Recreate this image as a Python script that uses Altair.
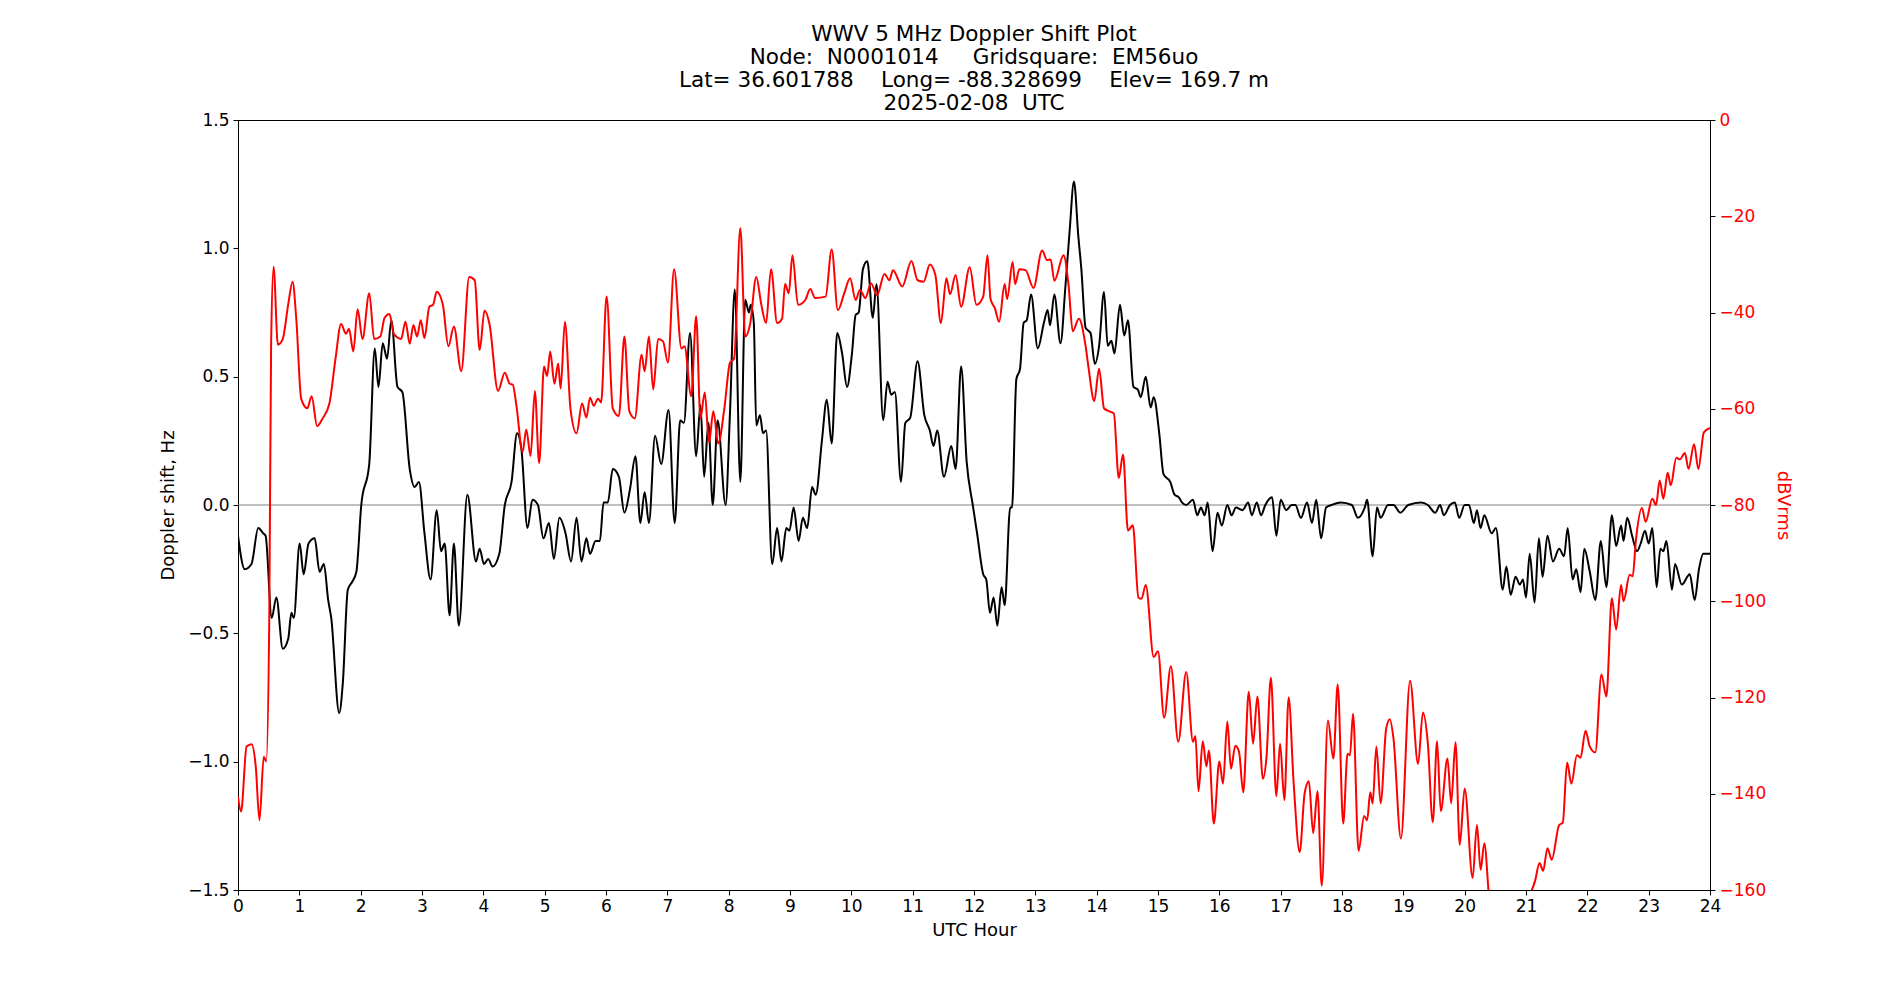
import altair as alt
import pandas as pd

# Doppler shift (Hz) vs UTC hour
black_hour = [0.00,0.11,0.22,0.33,0.41,0.45,0.55,0.625,0.73,0.82,0.87,0.91,1.005,1.07,1.15,1.25,1.33,1.40,1.47,1.52,1.65,1.71,1.79,1.86,1.93,2.01,2.14,2.23,2.29,2.36,2.43,2.50,2.60,2.68,2.80,2.88,2.95,3.04,3.14,3.24,3.31,3.37,3.45,3.52,3.60,3.74,3.88,3.94,4.01,4.08,4.15,4.26,4.35,4.46,4.55,4.62,4.72,4.80,4.89,4.98,5.07,5.15,5.24,5.34,5.43,5.52,5.60,5.68,5.74,5.83,5.90,5.96,6.03,6.11,6.21,6.30,6.39,6.48,6.56,6.63,6.70,6.80,6.90,7.02,7.12,7.21,7.27,7.37,7.47,7.54,7.60,7.67,7.74,7.82,7.95,8.02,8.10,8.19,8.27,8.33,8.36,8.41,8.45,8.51,8.56,8.61,8.71,8.79,8.86,8.94,8.99,9.06,9.14,9.21,9.28,9.36,9.42,9.52,9.60,9.68,9.77,9.85,9.93,10.01,10.07,10.12,10.19,10.26,10.35,10.41,10.52,10.59,10.65,10.71,10.81,10.88,10.96,11.08,11.19,11.28,11.34,11.40,11.51,11.63,11.70,11.79,11.88,11.98,12.05,12.15,12.20,12.26,12.32,12.38,12.45,12.50,12.59,12.62,12.69,12.75,12.81,12.86,12.93,13.04,13.14,13.20,13.24,13.31,13.41,13.49,13.56,13.63,13.70,13.75,13.82,13.86,13.90,13.97,14.04,14.12,14.18,14.24,14.29,14.38,14.45,14.51,14.60,14.67,14.72,14.80,14.88,14.93,15.02,15.09,15.20,15.27,15.34,15.39,15.46,15.57,15.64,15.70,15.76,15.81,15.89,15.97,16.04,16.13,16.20,16.27,16.38,16.47,16.53,16.61,16.68,16.75,16.86,16.93,17.00,17.09,17.18,17.24,17.33,17.43,17.51,17.58,17.66,17.74,17.83,17.98,18.16,18.26,18.37,18.41,18.50,18.57,18.63,18.75,18.84,18.95,19.08,19.29,19.40,19.52,19.60,19.66,19.76,19.84,19.91,20.00,20.07,20.15,20.20,20.26,20.32,20.44,20.51,20.62,20.68,20.75,20.83,20.90,20.95,21.00,21.06,21.14,21.21,21.27,21.35,21.44,21.54,21.62,21.68,21.76,21.82,21.89,21.95,22.04,22.13,22.22,22.31,22.40,22.47,22.55,22.59,22.65,22.73,22.81,22.87,22.94,23.00,23.06,23.13,23.19,23.24,23.29,23.38,23.43,23.54,23.67,23.75,23.82,23.89,24.00]
black_hz = [-0.12,-0.25,-0.23,-0.09,-0.11,-0.12,-0.44,-0.36,-0.56,-0.52,-0.42,-0.44,-0.15,-0.27,-0.15,-0.13,-0.26,-0.23,-0.37,-0.44,-0.81,-0.69,-0.33,-0.30,-0.26,0.00,0.16,0.61,0.46,0.63,0.57,0.72,0.46,0.44,0.14,0.07,0.09,-0.11,-0.29,-0.02,-0.18,-0.15,-0.43,-0.15,-0.47,0.04,-0.22,-0.17,-0.23,-0.21,-0.24,-0.19,0.00,0.09,0.28,0.22,-0.09,0.02,0.00,-0.13,-0.07,-0.21,-0.05,-0.11,-0.22,-0.05,-0.22,-0.13,-0.19,-0.14,-0.14,0.01,0.01,0.14,0.11,-0.03,0.06,0.19,-0.07,0.05,-0.07,0.27,0.16,0.37,-0.07,0.33,0.32,0.67,0.19,0.39,0.11,0.32,0.00,0.33,0.00,0.35,0.84,0.09,0.80,0.75,0.78,0.71,0.31,0.35,0.28,0.29,-0.23,-0.09,-0.22,-0.09,-0.10,-0.01,-0.14,-0.05,-0.09,0.07,0.04,0.25,0.41,0.24,0.67,0.59,0.46,0.59,0.74,0.75,0.92,0.95,0.73,0.86,0.33,0.48,0.43,0.44,0.09,0.32,0.34,0.56,0.35,0.29,0.23,0.29,0.11,0.23,0.14,0.54,0.17,0.00,-0.11,-0.27,-0.29,-0.42,-0.36,-0.47,-0.32,-0.39,-0.01,-0.01,0.49,0.53,0.71,0.72,0.82,0.61,0.71,0.76,0.70,0.82,0.63,0.85,1.07,1.26,1.05,0.92,0.69,0.68,0.67,0.55,0.62,0.83,0.62,0.64,0.59,0.78,0.66,0.72,0.46,0.45,0.42,0.50,0.38,0.42,0.28,0.12,0.09,0.04,0.03,0.01,0.00,0.02,-0.04,-0.01,-0.04,0.01,-0.18,-0.03,-0.08,0.00,-0.04,-0.01,-0.02,0.01,-0.04,0.01,-0.04,0.00,0.03,-0.12,0.02,-0.02,0.00,0.00,-0.05,0.01,-0.07,0.02,-0.13,-0.01,0.00,0.01,0.00,-0.05,-0.01,0.02,-0.20,-0.01,-0.05,0.00,0.00,-0.03,0.00,0.01,0.00,-0.03,0.00,-0.04,0.00,0.01,-0.05,0.00,0.00,-0.07,-0.02,-0.09,-0.04,-0.11,-0.09,-0.33,-0.24,-0.35,-0.28,-0.31,-0.29,-0.36,-0.19,-0.38,-0.13,-0.28,-0.12,-0.22,-0.17,-0.20,-0.09,-0.29,-0.25,-0.34,-0.17,-0.26,-0.37,-0.14,-0.32,-0.04,-0.16,-0.08,-0.14,-0.05,-0.12,-0.18,-0.15,-0.10,-0.15,-0.09,-0.32,-0.17,-0.18,-0.14,-0.33,-0.23,-0.31,-0.27,-0.37,-0.25,-0.19,-0.19]

# Signal level (dBVrms) vs UTC hour
red_hour = [0.00,0.05,0.14,0.22,0.29,0.35,0.42,0.46,0.51,0.54,0.58,0.65,0.73,0.82,0.89,0.95,1.03,1.13,1.20,1.29,1.38,1.49,1.59,1.68,1.76,1.81,1.88,1.95,2.03,2.14,2.22,2.32,2.39,2.47,2.54,2.66,2.73,2.80,2.86,2.92,2.98,3.04,3.12,3.18,3.24,3.34,3.43,3.52,3.64,3.77,3.86,3.94,4.02,4.10,4.24,4.35,4.43,4.48,4.54,4.64,4.70,4.77,4.84,4.91,4.99,5.04,5.09,5.16,5.22,5.26,5.33,5.42,5.52,5.61,5.68,5.74,5.80,5.87,5.92,6.01,6.11,6.21,6.30,6.38,6.47,6.58,6.63,6.70,6.77,6.85,6.93,7.01,7.11,7.23,7.28,7.39,7.47,7.54,7.61,7.68,7.75,7.83,7.93,8.02,8.09,8.19,8.27,8.35,8.45,8.53,8.61,8.69,8.79,8.87,8.92,8.98,9.04,9.13,9.25,9.33,9.41,9.58,9.68,9.78,9.88,9.98,10.07,10.14,10.23,10.32,10.42,10.54,10.62,10.68,10.83,10.98,11.08,11.18,11.28,11.37,11.46,11.55,11.61,11.70,11.79,11.93,12.04,12.15,12.22,12.27,12.34,12.41,12.50,12.54,12.63,12.67,12.74,12.84,12.97,13.11,13.19,13.25,13.31,13.46,13.54,13.61,13.71,13.82,13.87,13.96,14.04,14.12,14.20,14.28,14.36,14.43,14.51,14.59,14.68,14.73,14.80,14.93,15.00,15.10,15.21,15.33,15.46,15.57,15.61,15.66,15.73,15.79,15.83,15.91,16.00,16.06,16.13,16.19,16.26,16.32,16.39,16.48,16.55,16.62,16.71,16.77,16.84,16.93,16.99,17.06,17.13,17.21,17.31,17.39,17.46,17.53,17.60,17.67,17.77,17.86,17.93,18.02,18.09,18.13,18.18,18.27,18.36,18.41,18.46,18.50,18.56,18.63,18.72,18.78,18.84,18.96,19.11,19.24,19.32,19.40,19.48,19.55,19.61,19.72,19.78,19.85,19.92,20.00,20.13,20.20,20.26,20.32,20.41,20.55,20.75,20.95,21.05,21.15,21.22,21.28,21.35,21.42,21.54,21.60,21.67,21.74,21.83,21.89,21.97,22.04,22.13,22.23,22.31,22.40,22.47,22.55,22.59,22.69,22.74,22.79,22.89,22.95,23.06,23.12,23.18,23.24,23.31,23.36,23.45,23.51,23.59,23.65,23.74,23.81,23.90,24.00]
red_db = [-140.6,-143.7,-130.2,-129.7,-134.4,-145.5,-132.3,-133.3,-103.4,-46.5,-30.5,-46.7,-45.5,-38.2,-33.6,-41.3,-57.9,-59.9,-57.4,-63.6,-62.0,-58.9,-49.6,-42.4,-44.4,-43.4,-48.1,-39.3,-45.5,-36.0,-45.5,-45.0,-41.1,-40.3,-44.4,-45.5,-41.9,-46.5,-42.6,-45.0,-41.6,-45.3,-38.8,-38.4,-35.7,-38.4,-47.0,-42.9,-52.2,-32.6,-33.3,-47.8,-39.6,-42.4,-56.3,-52.5,-54.8,-55.0,-59.4,-69.0,-64.3,-69.8,-56.3,-71.3,-51.2,-53.2,-48.1,-54.8,-50.6,-55.8,-41.9,-59.9,-65.1,-58.9,-61.8,-57.7,-59.4,-57.9,-58.7,-36.7,-59.9,-61.5,-45.0,-60.5,-62.0,-48.8,-52.2,-45.0,-56.0,-45.5,-46.0,-50.4,-31.0,-47.5,-47.0,-57.4,-40.8,-62.0,-56.6,-67.0,-60.5,-67.2,-59.9,-50.5,-49.5,-22.5,-45.0,-42.4,-32.6,-38.2,-42.2,-31.0,-42.2,-41.3,-34.1,-36.0,-28.1,-38.4,-37.4,-35.1,-37.0,-36.7,-26.9,-39.5,-36.2,-32.9,-37.4,-35.3,-37.0,-33.9,-36.4,-32.0,-33.3,-31.2,-34.6,-29.3,-33.3,-33.6,-30.0,-32.2,-42.2,-32.9,-36.2,-32.2,-38.8,-30.6,-38.4,-36.7,-28.1,-37.2,-39.1,-41.9,-34.1,-37.2,-29.5,-34.1,-31.0,-31.2,-34.9,-27.1,-29.1,-29.0,-33.4,-28.1,-34.1,-43.9,-41.3,-47.0,-51.7,-58.4,-51.7,-59.9,-60.5,-61.0,-74.4,-69.5,-85.3,-84.2,-99.2,-99.5,-96.6,-111.6,-110.4,-124.2,-113.5,-129.2,-114.7,-129.2,-128.0,-139.5,-129.1,-134.3,-131.0,-146.2,-133.3,-137.9,-125.0,-134.8,-130.0,-131.2,-139.7,-118.8,-129.6,-119.8,-136.9,-132.2,-115.9,-140.5,-129.6,-141.3,-120.0,-137.4,-152.1,-140.0,-137.4,-148.2,-139.5,-159.1,-124.8,-132.7,-117.3,-146.2,-131.7,-132.0,-123.4,-151.9,-144.6,-145.5,-139.7,-142.0,-130.2,-142.0,-126.5,-124.5,-128.6,-149.3,-116.5,-133.8,-123.1,-129.6,-145.9,-129.1,-143.6,-132.7,-142.0,-129.3,-150.6,-138.9,-157.5,-146.5,-155.8,-150.3,-163.0,-168.0,-170.0,-165.0,-161.5,-158.0,-154.4,-156.0,-151.3,-153.7,-146.5,-146.0,-133.5,-137.9,-132.0,-132.5,-126.9,-130.2,-131.4,-115.2,-119.8,-99.4,-105.9,-96.6,-100.0,-94.5,-94.8,-87.6,-80.6,-83.5,-78.7,-80.0,-74.9,-78.7,-73.3,-75.9,-70.2,-70.5,-69.2,-72.5,-67.4,-72.5,-64.9,-64.0]

x_ticks = list(range(0, 25))
left_ticks = [-1.5, -1.0, -0.5, 0.0, 0.5, 1.0, 1.5]
right_ticks = [0, -20, -40, -60, -80, -100, -120, -140, -160]
NB = "\u00a0"
title_lines = [
    "WWV 5 MHz Doppler Shift Plot",
    "Node:" + NB * 2 + "N0001014" + NB * 5 + "Gridsquare:" + NB * 2 + "EM56uo",
    "Lat= 36.601788" + NB * 4 + "Long= -88.328699" + NB * 4 + "Elev= 169.7 m",
    "2025-02-08" + NB * 2 + "UTC",
]

FONT = "DejaVu Sans"

black_df = pd.DataFrame({"hour": black_hour, "hz": black_hz})
red_df = pd.DataFrame({"hour": red_hour, "db": red_db})
zero_df = pd.DataFrame({"hz": [0.0]})

x_enc = alt.X("hour:Q",
              scale=alt.Scale(domain=[0, 24], nice=False, zero=False),
              axis=alt.Axis(values=x_ticks, title="UTC Hour", format="d",
                            labelFontSize=17, titleFontSize=18, tickSize=5,
                            labelPadding=3, titlePadding=7, grid=False,
                            labelFlush=False, labelFont=FONT, titleFont=FONT,
                            titleFontWeight="normal"))

left_y_scale = alt.Scale(domain=[-1.5, 1.5], nice=False, zero=False)
left_axis = alt.Axis(values=left_ticks, format=".1f", title="Doppler shift, Hz",
                     labelFontSize=17, titleFontSize=18, tickSize=5,
                     labelPadding=4, titlePadding=10, grid=False, labelFlush=False,
                     labelFont=FONT, titleFont=FONT, titleFontWeight="normal")

zero_rule = alt.Chart(zero_df).mark_rule(color="#808080", strokeWidth=1).encode(
    y=alt.Y("hz:Q", scale=left_y_scale, axis=left_axis)
)

black_line = alt.Chart(black_df).mark_line(
    color="black", strokeWidth=2, interpolate="monotone", clip=True
).encode(
    x=x_enc,
    y=alt.Y("hz:Q", scale=left_y_scale, axis=left_axis),
)

red_line = alt.Chart(red_df).mark_line(
    color="red", strokeWidth=2, interpolate="monotone", clip=True
).encode(
    x=x_enc,
    y=alt.Y("db:Q",
            scale=alt.Scale(domain=[-160, 0], nice=False, zero=False),
            axis=alt.Axis(values=right_ticks, orient="right", title="dBVrms",
                          labelColor="red", titleColor="red", format="d",
                          labelFontSize=17, titleFontSize=18, tickSize=5,
                          labelPadding=4, titlePadding=8, grid=False,
                          labelFlush=False, labelFont=FONT, titleFont=FONT,
                          titleFontWeight="normal")),
)

left_group = alt.layer(zero_rule, black_line)

chart = alt.layer(left_group, red_line).resolve_scale(y="independent").properties(
    width=1472,
    height=770,
    background="white",
    title=alt.TitleParams(text=title_lines, fontSize=21.5, font=FONT,
                          fontWeight="normal", anchor="middle", frame="group",
                          offset=-3, lineHeight=23, color="black"),
    autosize=alt.AutoSizeParams(type="none"),
    padding={"left": 238, "top": 120, "right": 190, "bottom": 110},
).configure_view(
    stroke="black", strokeWidth=1
).configure_axis(
    labelFont=FONT, titleFont=FONT, titleFontWeight="normal",
    domainColor="black", tickColor="black",
    domainWidth=1, tickWidth=1
)

chart.save("out.html", embed_options={"renderer": "svg", "actions": False})
